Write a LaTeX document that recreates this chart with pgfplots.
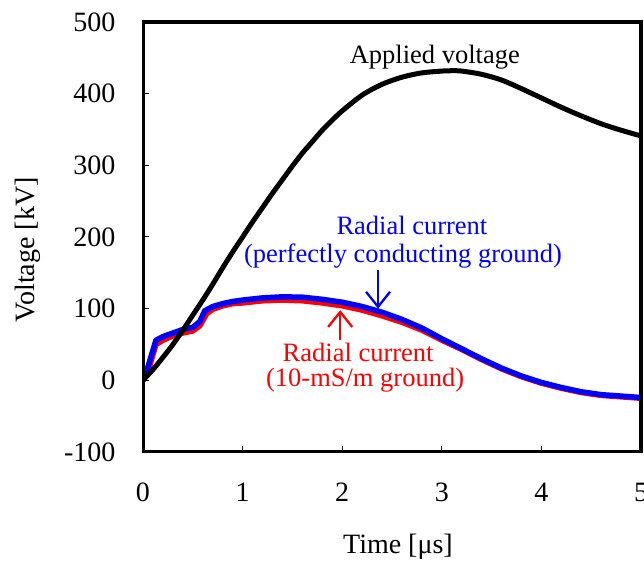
\documentclass[border=0pt]{standalone}
\usepackage{fontspec}
\setmainfont{Liberation Serif}
\usepackage{pgfplots}
\pgfplotsset{compat=1.18}
\usetikzlibrary{arrows.meta}
\newcommand{\bigf}{\fontsize{28}{33}\selectfont}
\newcommand{\annf}{\fontsize{26.5}{31}\selectfont}
\begin{document}
\begin{tikzpicture}
\begin{axis}[name=ax, scale only axis, width=498pt, height=430pt,
  xmin=0, xmax=5, ymin=-100, ymax=500,
  xtick={0,1,2,3,4,5}, ytick={-100,0,100,200,300,400,500},
  xticklabels={0,1,2,3,4,\makebox[0pt]{5}},
  tick align=inside, major tick length=0pt,
  axis line style={draw=none},
  /pgf/number format/assume math mode=true,
  ticklabel style={font=\bigf},
  yticklabel style={xshift=-24pt},
  xticklabel style={inner sep=0pt, yshift=-31pt},
  xlabel={Time [μs]}, ylabel={Voltage [kV]},
  every axis x label/.style={at={(axis description cs:0.512,-0.221)}, anchor=center, inner sep=0pt, font=\bigf},
  every axis y label/.style={at={(axis description cs:-0.231,0.47)}, anchor=center, inner sep=0pt, rotate=90, font=\bigf},
]
% Radial current, 10-mS/m ground (red)
\addplot[red, line width=5.5pt, line join=round] coordinates {
(0,0) (0.05,12) (0.13,50) (0.2,56) (0.3,62) (0.4,66) (0.5,69) (0.57,76) (0.64,93)
(0.7,99) (0.8,104) (0.9,107) (1.0,108) (1.2,111) (1.4,112) (1.6,111) (1.8,108)
(2.0,104) (2.2,98) (2.4,90) (2.6,81) (2.8,70) (3.0,56) (3.2,43) (3.4,29) (3.6,16)
(3.8,5) (4.0,-4) (4.2,-11) (4.4,-17) (4.6,-21) (4.8,-23) (5.0,-25)};
% Radial current, perfectly conducting ground (blue)
\addplot[blue, line width=5.5pt, line join=round] coordinates {
(0,0) (0.02,5) (0.13,56) (0.2,61) (0.3,66) (0.4,71) (0.5,74) (0.57,82) (0.62,97)
(0.7,103) (0.8,107) (0.9,110) (1.0,112) (1.2,115) (1.4,116.5) (1.6,116) (1.8,113)
(2.0,109) (2.2,103) (2.4,95) (2.6,85) (2.8,73) (3.0,58) (3.2,44) (3.4,30) (3.6,17)
(3.8,6) (4.0,-3) (4.2,-10) (4.4,-16) (4.6,-20) (4.8,-22) (5.0,-24)};
% Applied voltage (black)
\addplot[black, line width=5pt, smooth] coordinates {
(0,0) (0.1,15) (0.2,32) (0.3,50) (0.4,70) (0.5,91) (0.6,112) (0.7,134) (0.8,157)
(0.9,179) (1.0,200) (1.1,221) (1.2,241) (1.3,261) (1.4,280) (1.5,299) (1.6,317)
(1.7,333) (1.8,349) (1.9,363) (2.0,376) (2.2,398) (2.4,413) (2.6,423) (2.8,429)
(3.0,431.5) (3.1,432) (3.2,431.5) (3.4,427) (3.6,419) (3.8,407) (4.0,394) (4.2,381)
(4.4,369) (4.6,358) (4.8,349) (5.0,341)};
\node[anchor=base, font=\annf] at (axis cs:2.93,442) {Applied voltage};
\node[anchor=base, font=\annf, text=blue] at (axis cs:2.70,203) {Radial current};
\node[anchor=base, font=\annf, text=blue] at (axis cs:2.61,164) {(perfectly conducting ground)};
\node[anchor=base, font=\annf, text=red] at (axis cs:2.16,26) {Radial current};
\node[anchor=base, font=\annf, text=red] at (axis cs:2.23,-9) {(10-mS/m ground)};
\draw[blue, line width=2.3pt, -{Straight Barb[length=15pt,width=24pt,line width=2.3pt]}] (axis cs:2.36,154) -- (axis cs:2.36,100);
\draw[red, line width=2.3pt, -{Straight Barb[length=15pt,width=24pt,line width=2.3pt]}] (axis cs:1.98,56) -- (axis cs:1.98,98);
% frame edges and ticks drawn inside the axis as well
\draw[black, line width=4pt] (axis cs:0,500) -- (axis cs:0,-100) -- (axis cs:5,-100);
\draw[black, line width=1pt] (axis cs:1,-100) -- ([yshift=6pt]axis cs:1,-100);
\draw[black, line width=1pt] (axis cs:2,-100) -- ([yshift=6pt]axis cs:2,-100);
\draw[black, line width=1pt] (axis cs:3,-100) -- ([yshift=6pt]axis cs:3,-100);
\draw[black, line width=1pt] (axis cs:4,-100) -- ([yshift=6pt]axis cs:4,-100);
\draw[black, line width=1pt] (axis cs:0,0) -- ([xshift=6pt]axis cs:0,0);
\draw[black, line width=1pt] (axis cs:0,100) -- ([xshift=6pt]axis cs:0,100);
\draw[black, line width=1pt] (axis cs:0,200) -- ([xshift=6pt]axis cs:0,200);
\draw[black, line width=1pt] (axis cs:0,300) -- ([xshift=6pt]axis cs:0,300);
\draw[black, line width=1pt] (axis cs:0,400) -- ([xshift=6pt]axis cs:0,400);
\end{axis}
% frame
\fill[black] ([xshift=-1.5pt, yshift=-1.5pt]ax.south west) rectangle ([xshift=1.2pt, yshift=1pt]ax.north west);
\fill[black] ([xshift=-1.5pt, yshift=-1.5pt]ax.south west) rectangle ([xshift=1pt, yshift=1.2pt]ax.south east);
\fill[black] ([xshift=-1.5pt, yshift=-1.8pt]ax.north west) rectangle ([xshift=1.8pt, yshift=1.8pt]ax.north east);
\fill[black] ([xshift=-1.8pt, yshift=-1.5pt]ax.south east) rectangle ([xshift=1.8pt, yshift=1.8pt]ax.north east);
\path ([shift={(-143pt,-113pt)}]ax.south west) rectangle ([shift={(3pt,22pt)}]ax.north east);
\end{tikzpicture}
\end{document}
